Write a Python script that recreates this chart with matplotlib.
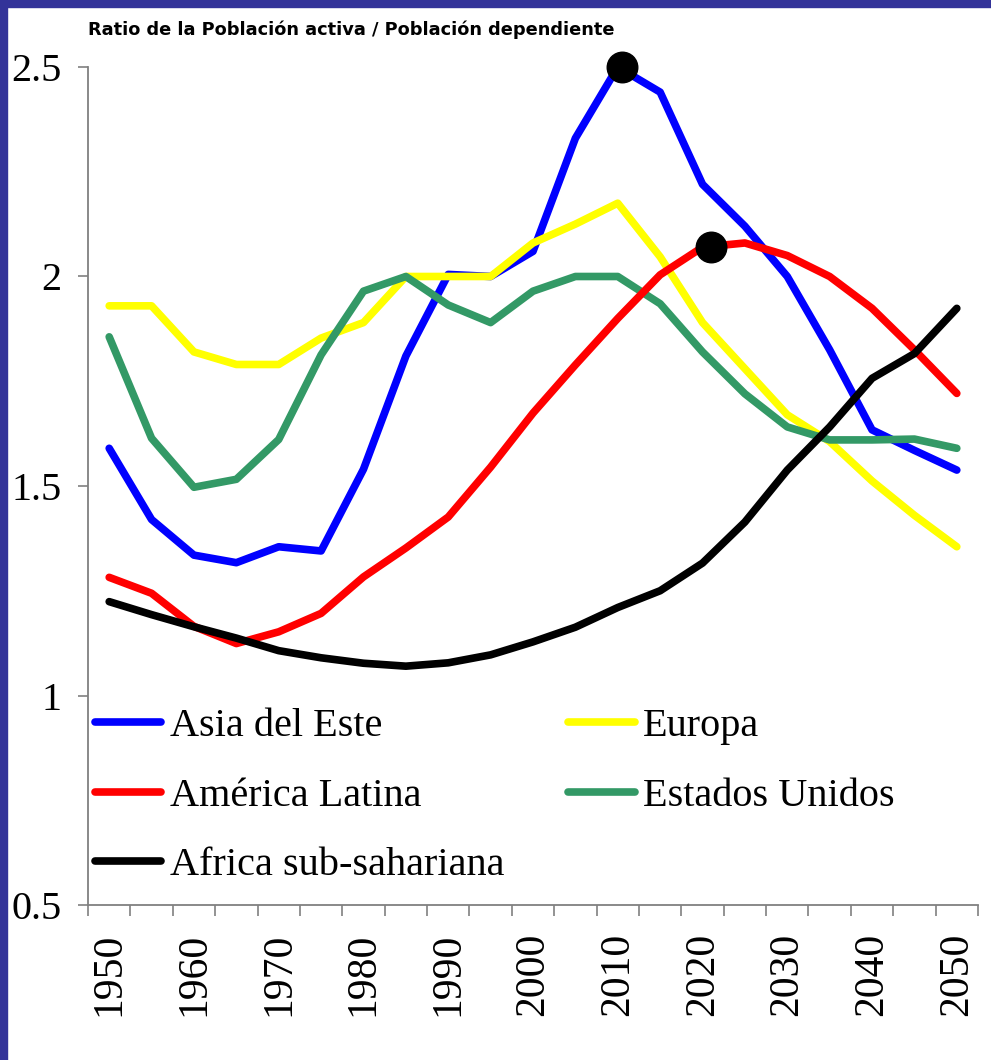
import matplotlib
matplotlib.use('Agg')
import matplotlib.pyplot as plt
from matplotlib.patches import Rectangle
from matplotlib.ticker import FixedLocator

years = list(range(1950, 2051, 5))
asia_este = [1.59, 1.42, 1.335, 1.317, 1.355, 1.345, 1.54, 1.81, 2.005, 2.0, 2.06, 2.33, 2.5,
             2.44, 2.22, 2.12, 2.0, 1.825, 1.634, 1.585, 1.538]
europa = [1.93, 1.93, 1.82, 1.79, 1.79, 1.853, 1.89, 2.0, 2.0, 2.0, 2.08, 2.125, 2.175,
          2.047, 1.89, 1.78, 1.67, 1.606, 1.512, 1.43, 1.355]
america_latina = [1.282, 1.244, 1.165, 1.124, 1.152, 1.196, 1.283, 1.352, 1.426, 1.545, 1.674,
                  1.789, 1.9, 2.004, 2.07, 2.08, 2.05, 2.0, 1.924, 1.825, 1.721]
estados_unidos = [1.856, 1.614, 1.497, 1.516, 1.611, 1.813, 1.965, 2.0, 1.932, 1.89, 1.965,
                  2.0, 2.0, 1.935, 1.82, 1.72, 1.641, 1.61, 1.61, 1.612, 1.59]
africa = [1.224, 1.193, 1.164, 1.137, 1.107, 1.09, 1.077, 1.07, 1.078, 1.097, 1.128, 1.163,
          1.21, 1.25, 1.316, 1.414, 1.538, 1.641, 1.757, 1.816, 1.924]
peak_x = [2010.5, 2021]
peak_y = [2.5, 2.07]

title = 'Ratio de la Población activa / Población dependiente'
ytick_vals = [0.5, 1, 1.5, 2, 2.5]
ytick_labels = ['0.5', '1', '1.5', '2', '2.5']
xtick_vals = list(range(1950, 2051, 10))

serif = 'Liberation Serif'
fs = 29

fig = plt.figure(figsize=(9.91, 10.60), dpi=100)
ax = fig.add_axes([88/991, 1 - 905/1060, 890/991, 838/1060])

lw = 5.5
kw = dict(linewidth=lw, solid_capstyle='round', solid_joinstyle='round')
l_asia, = ax.plot(years, asia_este, color='#0000FF', label='Asia del Este', zorder=2, **kw)
l_eur, = ax.plot(years, europa, color='#FFFF00', label='Europa', zorder=2.1, **kw)
l_eu, = ax.plot(years, estados_unidos, color='#339966', label='Estados Unidos', zorder=2.2, **kw)
l_lat, = ax.plot(years, america_latina, color='#FF0000', label='América Latina', zorder=2.3, **kw)
l_afr, = ax.plot(years, africa, color='black', label='Africa sub-sahariana', zorder=2.4, **kw)
ax.plot(peak_x, peak_y, 'o', color='black', markersize=22, zorder=3, clip_on=False)

ax.set_xlim(1947.5, 2052.5)
ax.set_ylim(0.5, 2.5)

ax.set_yticks(ytick_vals)
ax.set_yticklabels(ytick_labels, fontsize=fs, family=serif)
ax.set_xticks(xtick_vals)
ax.set_xticklabels([str(x) for x in xtick_vals], fontsize=30, family=serif, rotation=90)
ax.xaxis.set_minor_locator(FixedLocator([1947.5 + 5 * i for i in range(22)]))
ax.tick_params(axis='x', which='major', length=0, pad=20)
ax.tick_params(axis='x', which='minor', length=8, width=1.2, color='#808080', direction='out')
ax.tick_params(axis='y', length=7, width=1.2, color='#808080', direction='out', pad=12)

for side in ['top', 'right']:
    ax.spines[side].set_visible(False)
for side in ['left', 'bottom']:
    ax.spines[side].set_color('#808080')
    ax.spines[side].set_linewidth(1.3)

leg = ax.legend(handles=[l_asia, l_lat, l_afr, l_eur, l_eu], ncol=2, frameon=False,
                loc='upper left', bbox_to_anchor=(7/890, (905 - 708)/838),
                borderpad=0, borderaxespad=0, handlelength=1.65, handletextpad=0.2,
                labelspacing=0.8, columnspacing=1.6,
                prop={'family': serif, 'size': fs})

fig.text(88/991, 1 - 35/1060, title, fontsize=12.8, fontweight='bold',
         family='DejaVu Sans', va='baseline', ha='left')

fig.patches.append(Rectangle((0, 0), 7/991, 1, transform=fig.transFigure,
                             color='#333399', zorder=10))
fig.patches.append(Rectangle((0, 1 - 7/1060), 1, 7/1060, transform=fig.transFigure,
                             color='#333399', zorder=10))

fig.savefig('out.png', dpi=100)
